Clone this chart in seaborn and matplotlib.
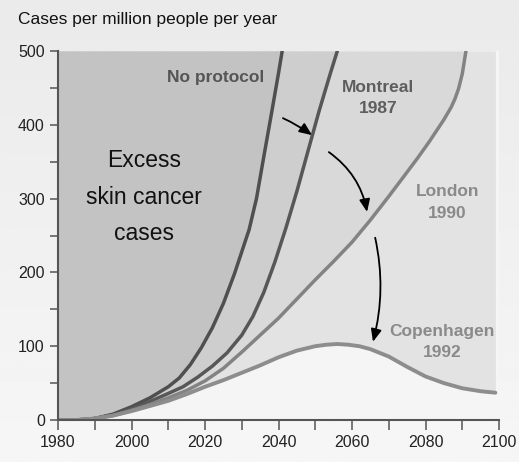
import numpy as np
import pandas as pd
import matplotlib
matplotlib.use("Agg")
import matplotlib.pyplot as plt
from matplotlib.ticker import MultipleLocator
import seaborn as sns

# data (cases per million people per year)
np_years = [1980, 1985, 1990, 1995, 2000, 2005, 2010, 2013, 2016, 2019, 2022, 2025, 2028, 2030,
            2032, 2034, 2036, 2038, 2040, 2041]
np_vals = [0, 0, 2, 8, 18, 30, 45, 57, 75, 98, 125, 158, 198, 228,
           258, 300, 357, 413, 470, 500]

mont_years = [1980, 1985, 1990, 1995, 2000, 2005, 2010, 2014, 2018, 2022, 2026, 2030, 2033, 2036,
              2039, 2042, 2045, 2048, 2051, 2054, 2056]
mont_vals = [0, 0, 2, 7, 15, 25, 36, 45, 58, 73, 91, 115, 140, 173,
             214, 260, 310, 364, 418, 468, 500]

lon_years = [1980, 1985, 1990, 1995, 2000, 2005, 2010, 2015, 2020, 2025, 2030, 2035, 2040, 2045, 2050,
             2055, 2060, 2065, 2070, 2075, 2078, 2081, 2083, 2085, 2087, 2088, 2089, 2090, 2091]
lon_vals = [0, 0, 2, 6, 13, 21, 30, 40, 53, 70, 92, 115, 138, 164, 190,
            215, 241, 271, 303, 336, 356, 377, 392, 407, 424, 435, 449, 469, 500]

cop_years = [1980, 1985, 1990, 1995, 2000, 2005, 2010, 2015, 2020, 2025, 2030, 2035, 2040, 2045, 2050,
             2053, 2056, 2059, 2062, 2065, 2070, 2075, 2080, 2085, 2090, 2095, 2099]
cop_vals = [0, 0, 2, 6, 12, 19, 26, 35, 45, 54, 64, 74, 85, 94, 100,
            102, 103, 102, 100, 96, 86, 72, 59, 50, 43, 39, 37]

series = [
    ("No protocol", np_years, np_vals, "#4f4f4f", "#c3c3c3"),
    ("Montreal 1987", mont_years, mont_vals, "#575757", "#cecece"),
    ("London 1990", lon_years, lon_vals, "#838383", "#d9d9d9"),
    ("Copenhagen 1992", cop_years, cop_vals, "#8d8d8d", "#e3e3e3"),
]

sns.set_style("ticks")
plt.rcParams["font.family"] = ["Liberation Sans", "DejaVu Sans"]

fig = plt.figure(figsize=(5.19, 4.62), dpi=100)

# soft grey background gradient behind everything
bg = fig.add_axes([0, 0, 1, 1], zorder=-5)
grad = np.linspace(0.918, 0.965, 256).reshape(-1, 1)
bg.imshow(grad, aspect="auto", cmap="gray", vmin=0, vmax=1, extent=[0, 1, 0, 1], origin="upper")
bg.axis("off")

ax = fig.add_axes([0.1118, 0.0909, 0.8497, 0.7987])
ax.set_facecolor("#f5f5f5")

# shaded bands: fill from each curve up to the top, lightest first
for name, yrs, vals, lc, fc in reversed(series):
    ax.fill_between(yrs, vals, 500, color=fc, linewidth=0, zorder=1)

for name, yrs, vals, lc, fc in series:
    lw = 2.8 if name.startswith("Copenhagen") else 2.5
    df = pd.DataFrame({"year": yrs, "cases": vals})
    sns.lineplot(data=df, x="year", y="cases", color=lc, linewidth=lw, ax=ax, zorder=3)
for ln in ax.lines:
    ln.set_solid_joinstyle("round")

ax.set_xlim(1980, 2100)
ax.set_ylim(0, 500)
ax.set_xlabel("")
ax.set_ylabel("")
ax.xaxis.set_major_locator(MultipleLocator(20))
ax.xaxis.set_minor_locator(MultipleLocator(10))
ax.yaxis.set_major_locator(MultipleLocator(100))
ax.yaxis.set_minor_locator(MultipleLocator(50))
ax.tick_params(which="both", length=6, width=1.1, color="#555555", labelsize=11.5, labelcolor="#222222")
ax.tick_params(axis="x", which="both", length=7, pad=4)
for s in ["top", "right"]:
    ax.spines[s].set_visible(False)
for s in ["left", "bottom"]:
    ax.spines[s].set_color("#555555")
    ax.spines[s].set_linewidth(1.5)
    ax.spines[s].set_zorder(5)

# labels on the curves
lab = dict(ha="center", va="center", fontsize=12.5, fontweight="bold", zorder=6)
ax.text(2023, 464, "No protocol", color="#555555", **lab)
ax.text(2067, 450, "Montreal", color="#5e5e5e", **lab)
ax.text(2067, 422, "1987", color="#5e5e5e", **lab)
ax.text(2086, 309, "London", color="#8a8a8a", **lab)
ax.text(2086, 280, "1990", color="#8a8a8a", **lab)
ax.text(2084.5, 120, "Copenhagen", color="#8a8a8a", **lab)
ax.text(2084.5, 91, "1992", color="#8a8a8a", **lab)

big = dict(ha="center", va="center", fontsize=16.5, color="#111111", zorder=6)
ax.text(2003.4, 352, "Excess", **big)
ax.text(2003.4, 301, "skin cancer", **big)
ax.text(2003.4, 253, "cases", **big)

# arrows from one protocol to the next
arrows = [
    ((2041.2, 409), (2049.1, 386), "arc3,rad=-0.05"),
    ((2053.7, 363), (2064.1, 282), "arc3,rad=-0.2"),
    ((2066.3, 247), (2065.7, 106), "arc3,rad=-0.12"),
]
for start, end, cs in arrows:
    ax.annotate("", xy=end, xytext=start, zorder=6,
                arrowprops=dict(arrowstyle="-|>,head_length=0.75,head_width=0.32", color="black",
                                lw=1.3, connectionstyle=cs, shrinkA=0, shrinkB=0))

fig.text(0.035, 0.957, "Cases per million people per year", ha="left", va="center", fontsize=12.5, color="#111111")

fig.savefig("out.png", dpi=100)
